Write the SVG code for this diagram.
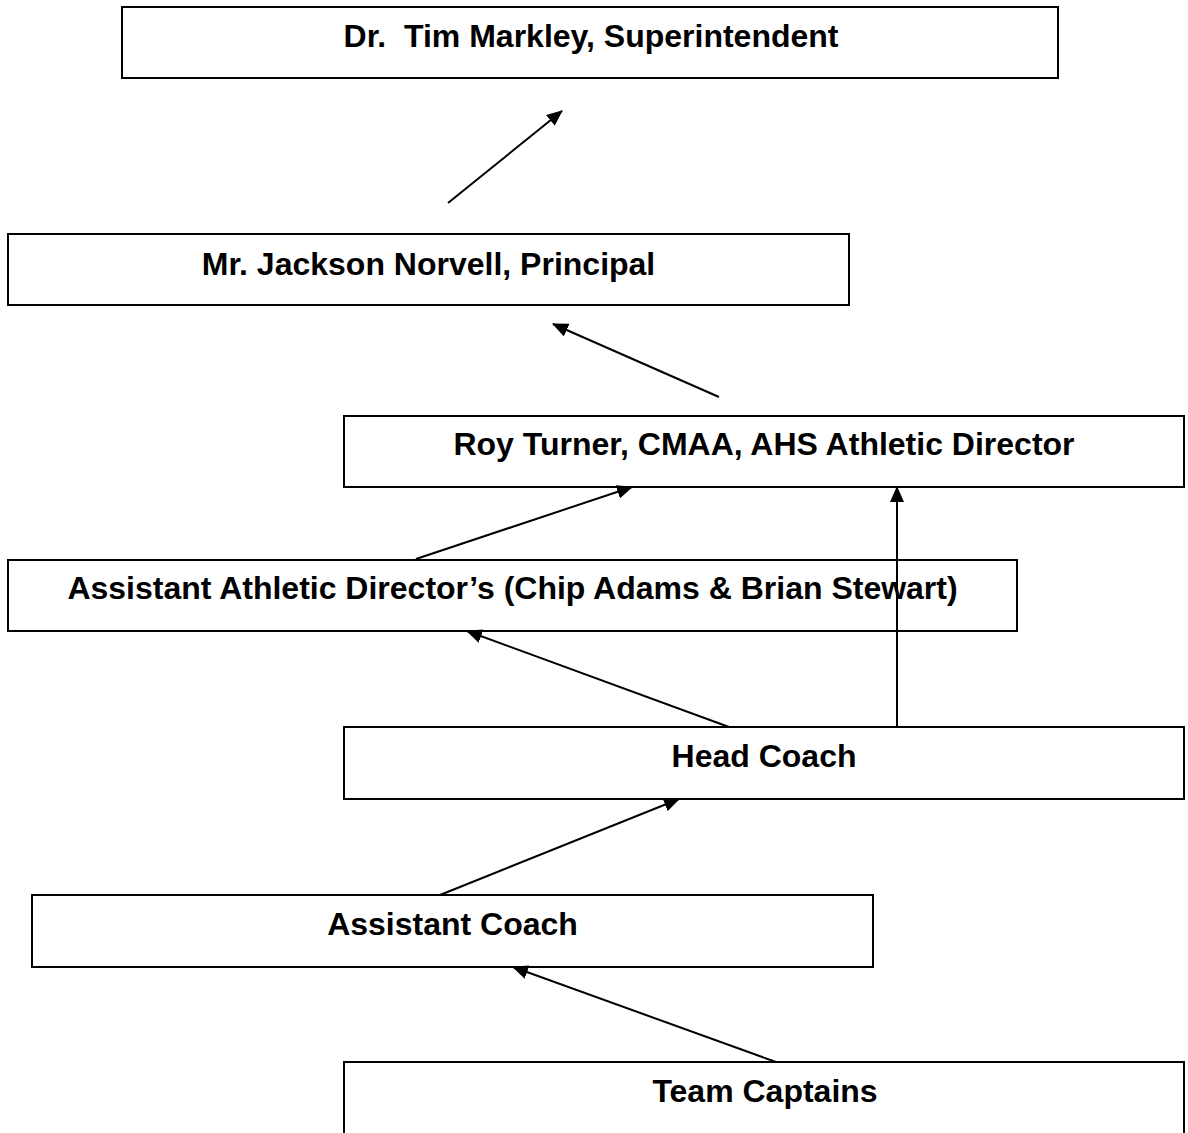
<svg xmlns="http://www.w3.org/2000/svg" width="1188" height="1133" viewBox="0 0 1188 1133">
<style>
.box{fill:#fff;stroke:#000;stroke-width:2}
.lbl{font-family:"Liberation Sans",Arial,sans-serif;font-weight:bold;font-size:32px;text-anchor:middle;fill:#000;white-space:pre}
.conn{stroke:#000;stroke-width:2;fill:none;marker-end:url(#ah)}
</style>
<defs>
<marker id="ah" viewBox="0 0 16 14" refX="15" refY="7" markerWidth="8" markerHeight="7" markerUnits="strokeWidth" orient="auto">
<path d="M0,0 L16,7 L0,14 z" fill="#000"/>
</marker>
</defs>
<rect width="1188" height="1133" fill="#fff"/>
<g id="n1"><rect class="box" x="122" y="7" width="936" height="71"/><text class="lbl" x="591" y="47" xml:space="preserve">Dr.  Tim Markley, Superintendent</text></g>
<g id="n2"><rect class="box" x="8" y="234" width="841" height="71"/><text class="lbl" x="428.5" y="275">Mr. Jackson Norvell, Principal</text></g>
<g id="n3"><rect class="box" x="344" y="416" width="840" height="71"/><text class="lbl" x="764" y="455">Roy Turner, CMAA, AHS Athletic Director</text></g>
<g id="n4"><rect class="box" x="8" y="560" width="1009" height="71"/><text class="lbl" x="512.5" y="599">Assistant Athletic Director’s (Chip Adams &amp; Brian Stewart)</text></g>
<g id="n5"><rect class="box" x="344" y="727" width="840" height="72"/><text class="lbl" x="764" y="767">Head Coach</text></g>
<g id="n6"><rect class="box" x="32" y="895" width="841" height="72"/><text class="lbl" x="452.5" y="935">Assistant Coach</text></g>
<g id="n7"><rect class="box" x="344" y="1062" width="840" height="80"/><text class="lbl" x="765" y="1102">Team Captains</text></g>
<g id="connectors">
<line class="conn" x1="448" y1="203" x2="562" y2="111"/>
<line class="conn" x1="719" y1="397" x2="553" y2="324"/>
<line class="conn" x1="416" y1="559" x2="632" y2="487"/>
<line class="conn" x1="897" y1="727" x2="897" y2="487"/>
<line class="conn" x1="729" y1="727" x2="467" y2="631"/>
<line class="conn" x1="440" y1="895" x2="679" y2="799"/>
<line class="conn" x1="776" y1="1062" x2="513" y2="967"/>
</g>
</svg>
